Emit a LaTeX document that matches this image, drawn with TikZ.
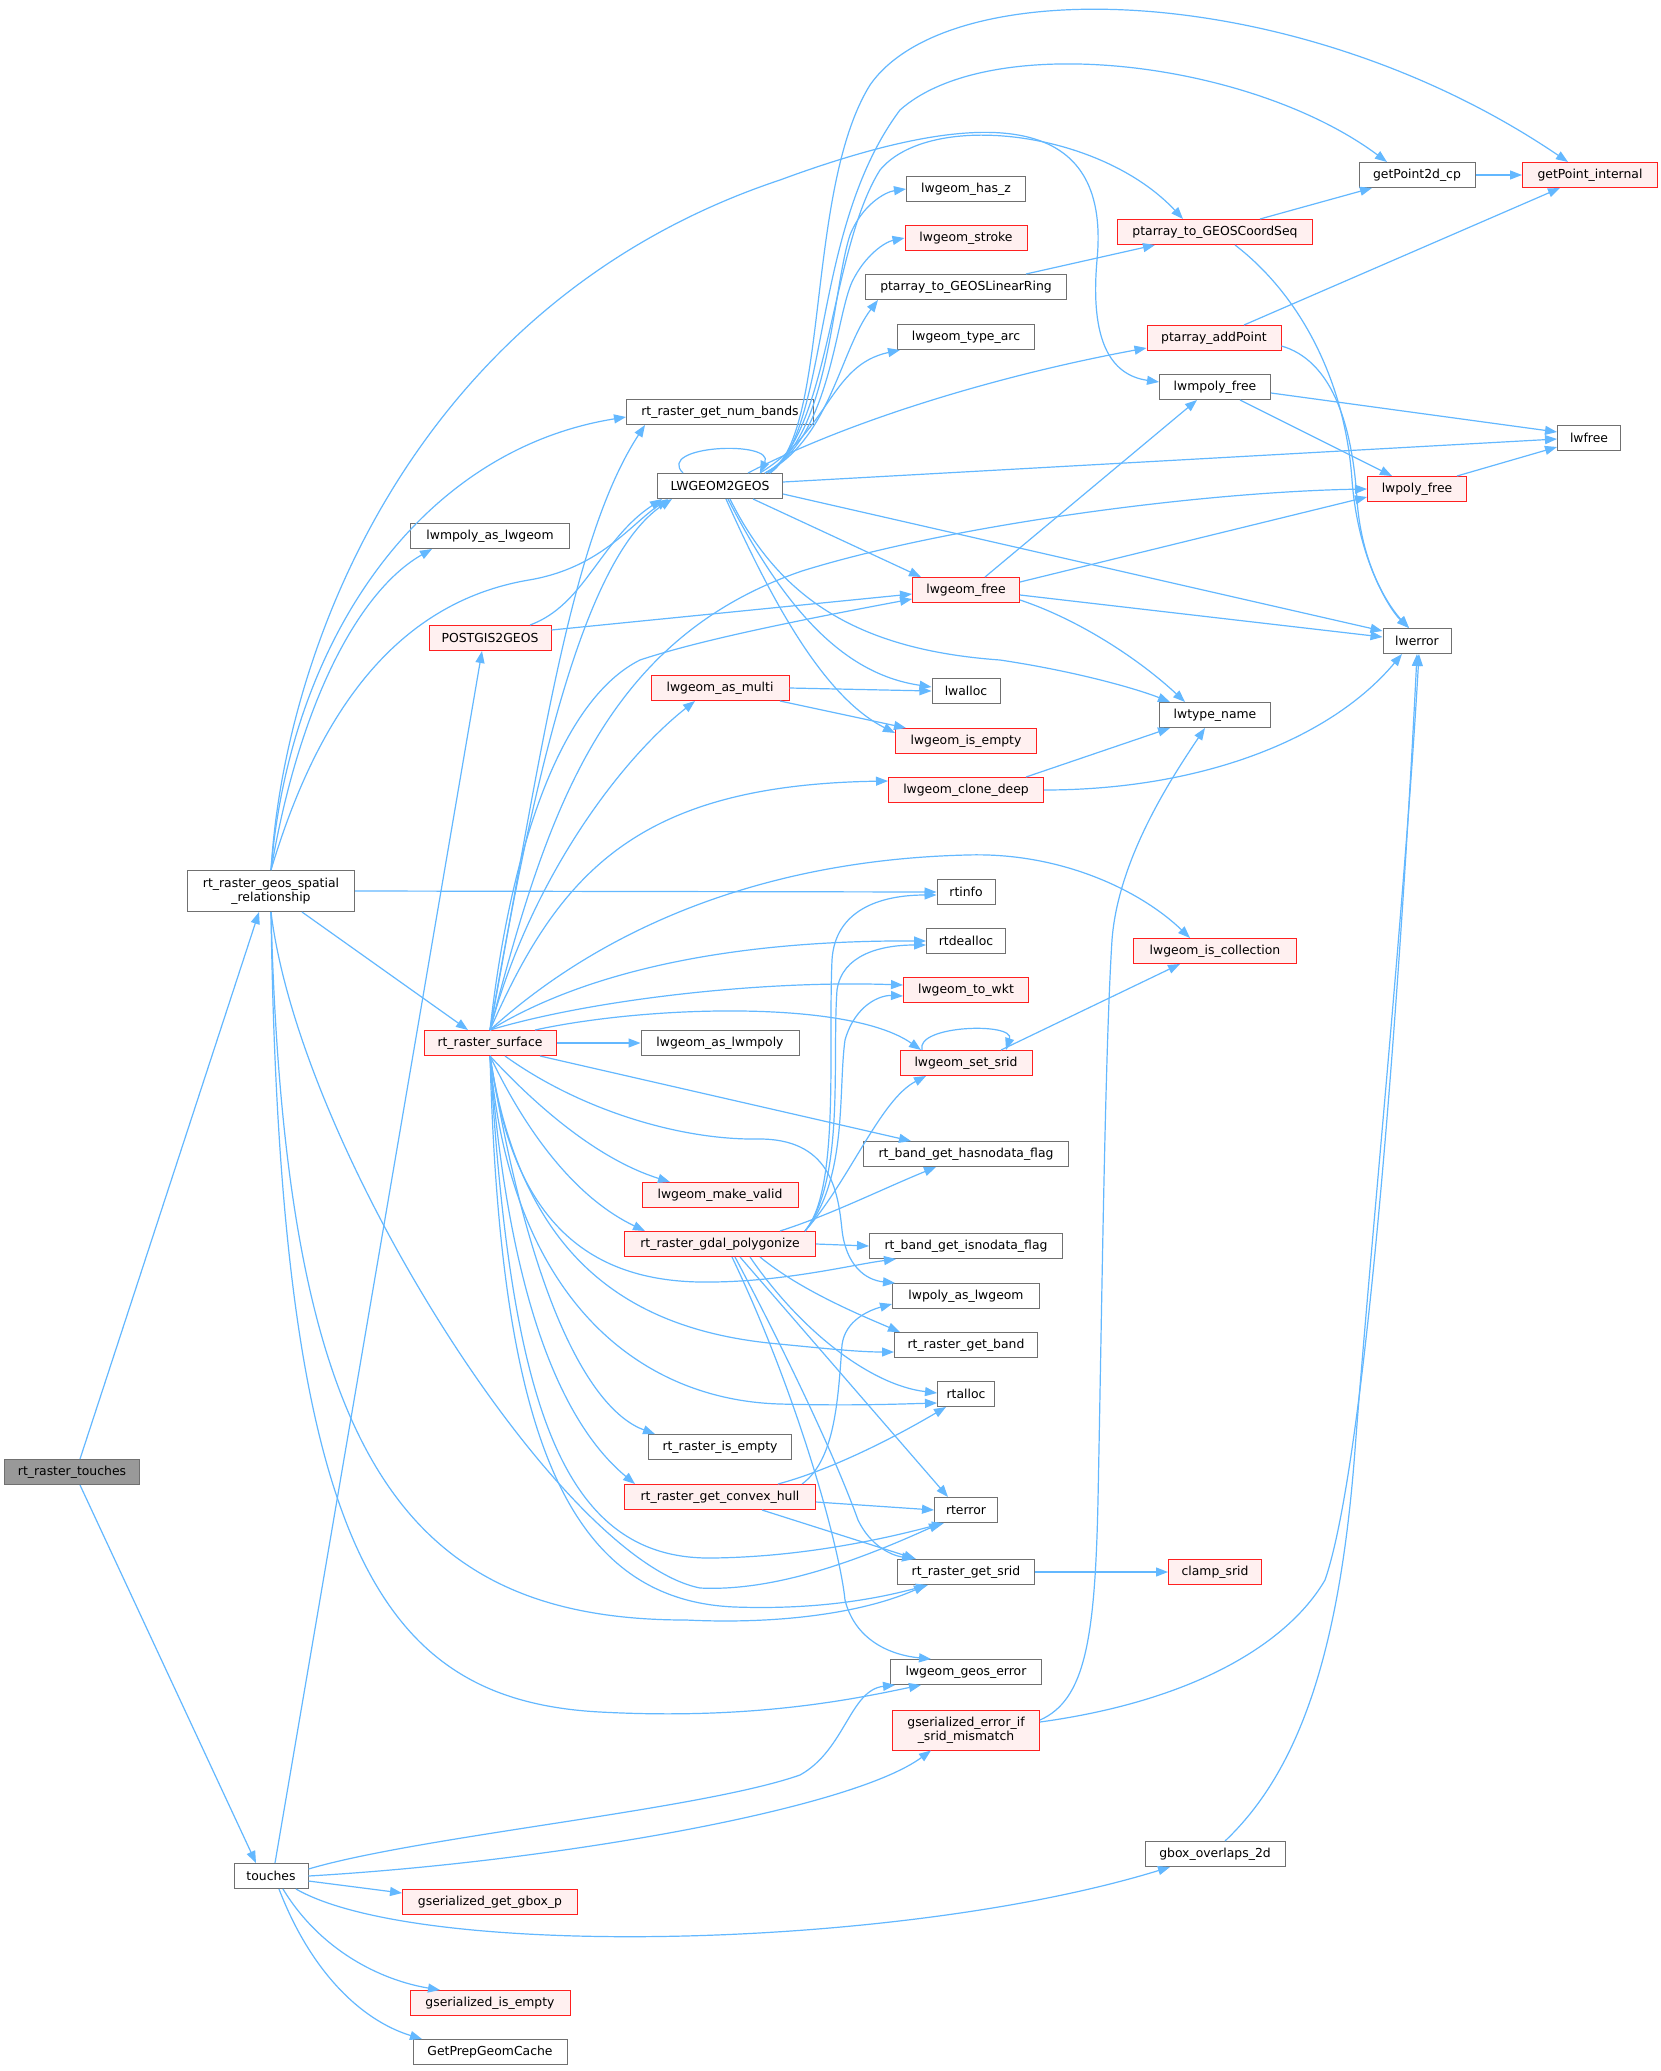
\documentclass[tikz,border=0pt]{standalone}
\usepackage{fontspec}
\setmainfont{DejaVu Sans}
\usetikzlibrary{arrows.meta}
\definecolor{edgeblue}{HTML}{63B8FF}
\definecolor{nodegrey}{HTML}{707070}
\definecolor{nodered}{HTML}{FF2020}
\definecolor{nodepink}{HTML}{FFF0F0}
\definecolor{rootgrey}{HTML}{999999}
\tikzset{
 box/.style={draw=nodegrey, fill=white, line width=1pt, minimum height=25pt, inner sep=0pt, font=\fontsize{12.4}{14.5}\selectfont, align=center},
 redbox/.style={box, draw=nodered, fill=nodepink},
 rootbox/.style={box, fill=rootgrey},
 e/.style={draw=edgeblue, line width=1.2pt, -{Triangle[length=12pt,width=9pt]}},
}
\begin{document}
\begin{tikzpicture}[x=1pt,y=-1pt]
\useasboundingbox[fill=white] (0,0) rectangle (1661,2071);
% nodes
\node[rootbox, minimum width=135pt] (RT) at (72,1472) {rt\_raster\_touches};
\node[box, minimum width=167pt, minimum height=41pt] (GS) at (271,891) {rt\_raster\_geos\_spatial\\\_relationship};
\node[box, minimum width=74pt] (TO) at (271,1876) {touches};
\node[box, minimum width=159pt] (LMAL) at (490,536) {lwmpoly\_as\_lwgeom};
\node[redbox, minimum width=122pt] (PG2G) at (490,638) {POSTGIS2GEOS};
\node[redbox, minimum width=132pt] (RS) at (490,1043) {rt\_raster\_surface};
\node[redbox, minimum width=175pt] (GGB) at (490,1902) {gserialized\_get\_gbox\_p};
\node[redbox, minimum width=160pt] (GIE) at (490,2003) {gserialized\_is\_empty};
\node[box, minimum width=154pt] (GPC) at (490,2052) {GetPrepGeomCache};
\node[box, minimum width=187pt] (NB) at (720,412) {rt\_raster\_get\_num\_bands};
\node[box, minimum width=125pt] (LW2G) at (720,486) {LWGEOM2GEOS};
\node[redbox, minimum width=138pt] (LAM) at (720,688) {lwgeom\_as\_multi};
\node[box, minimum width=158pt] (LALM) at (720,1043) {lwgeom\_as\_lwmpoly};
\node[redbox, minimum width=156pt] (LMV) at (720,1195) {lwgeom\_make\_valid};
\node[redbox, minimum width=191pt] (GP) at (720,1244) {rt\_raster\_gdal\_polygonize};
\node[box, minimum width=143pt] (RIE) at (720,1447) {rt\_raster\_is\_empty};
\node[redbox, minimum width=191pt] (CH) at (720,1497) {rt\_raster\_get\_convex\_hull};
\node[box, minimum width=119pt] (HZ) at (966,189) {lwgeom\_has\_z};
\node[redbox, minimum width=122pt] (ST) at (966,238) {lwgeom\_stroke};
\node[box, minimum width=201pt] (LR) at (966,287) {ptarray\_to\_GEOSLinearRing};
\node[box, minimum width=137pt] (TA) at (966,337) {lwgeom\_type\_arc};
\node[redbox, minimum width=107pt] (LF) at (966,590) {lwgeom\_free};
\node[box, minimum width=68pt] (LA) at (966,691) {lwalloc};
\node[redbox, minimum width=141pt] (LIE) at (966,741) {lwgeom\_is\_empty};
\node[redbox, minimum width=155pt] (CD) at (966,790) {lwgeom\_clone\_deep};
\node[box, minimum width=58pt] (RI) at (966,892) {rtinfo};
\node[box, minimum width=79pt] (RD) at (966,941) {rtdealloc};
\node[redbox, minimum width=125pt] (WKT) at (966,990) {lwgeom\_to\_wkt};
\node[redbox, minimum width=132pt] (SS) at (966,1063) {lwgeom\_set\_srid};
\node[box, minimum width=205pt] (HN) at (966,1154) {rt\_band\_get\_hasnodata\_flag};
\node[box, minimum width=193pt] (IN) at (966,1246) {rt\_band\_get\_isnodata\_flag};
\node[box, minimum width=147pt] (PAL) at (966,1296) {lwpoly\_as\_lwgeom};
\node[box, minimum width=143pt] (GB) at (966,1345) {rt\_raster\_get\_band};
\node[box, minimum width=57pt] (RA) at (966,1394) {rtalloc};
\node[box, minimum width=63pt] (RE) at (966,1510) {rterror};
\node[box, minimum width=137pt] (GS2) at (966,1572) {rt\_raster\_get\_srid};
\node[box, minimum width=151pt] (GE) at (966,1672) {lwgeom\_geos\_error};
\node[redbox, minimum width=147pt, minimum height=40pt] (GEM) at (966,1730) {gserialized\_error\_if\\\_srid\_mismatch};
\node[redbox, minimum width=195pt] (CS) at (1215,232) {ptarray\_to\_GEOSCoordSeq};
\node[redbox, minimum width=134pt] (AP) at (1214,338) {ptarray\_addPoint};
\node[box, minimum width=111pt] (MF) at (1215,387) {lwmpoly\_free};
\node[box, minimum width=111pt] (TN) at (1215,715) {lwtype\_name};
\node[redbox, minimum width=163pt] (IC) at (1215,951) {lwgeom\_is\_collection};
\node[redbox, minimum width=93pt] (CL) at (1215,1572) {clamp\_srid};
\node[box, minimum width=140pt] (GO) at (1215,1854) {gbox\_overlaps\_2d};
\node[box, minimum width=116pt] (P2) at (1417,175) {getPoint2d\_cp};
\node[redbox, minimum width=99pt] (PF) at (1417,489) {lwpoly\_free};
\node[box, minimum width=68pt] (ER) at (1417,641) {lwerror};
\node[redbox, minimum width=135pt] (PI) at (1590,175) {getPoint\_internal};
\node[box, minimum width=63pt] (FR) at (1589,438) {lwfree};
% rt_raster_touches
\draw[e] ([xshift=8pt]RT.north) -- ([xshift=-12pt]GS.south);
\draw[e] ([xshift=8pt]RT.south) -- ([xshift=-15pt]TO.north);
% geos spatial relationship
\draw[e] (GS.north) .. controls (285,640) and (420,300) .. (780,180) .. controls (1010,95) and (1110,125) .. (1097,260) .. controls (1090,340) and (1110,375) .. ([yshift=5pt]MF.west);
\draw[e] (GS.north) .. controls (290,640) and (420,450) .. ([yshift=-5pt]NB.west);
\draw[e] (GS.north) .. controls (300,700) and (360,590) .. ([xshift=-58pt]LMAL.south);
\draw[e] (GS.north) .. controls (310,740) and (380,605) .. (529,580) .. controls (600,568) and (630,525) .. ([xshift=-52pt]LW2G.south);
\draw[e] (GS.east) -- (RI.west);
\draw[e] ([xshift=31pt]GS.south) -- ([xshift=-22pt]RS.north);
\draw[e] (GS.south) .. controls (300,1150) and (560,1560) .. (700,1588) .. controls (780,1592) and (870,1555) .. ([xshift=-25pt]RE.south);
\draw[e] (GS.south) .. controls (285,1450) and (400,1620) .. (686,1620) .. controls (790,1625) and (870,1610) .. ([xshift=-40pt]GS2.south);
\draw[e] (GS.south) .. controls (280,1550) and (380,1700) .. (600,1712) .. controls (750,1720) and (850,1700) .. ([xshift=-45pt]GE.south);
% touches
\draw[e] ([xshift=4pt]TO.north) -- ([xshift=-8pt]PG2G.south);
\draw[e] ([yshift=7pt]TO.east) .. controls (420,1836) and (700,1810) .. (800,1775) .. controls (845,1750) and (850,1690) .. ([xshift=5pt]GE.south west);
\draw[e] (TO.east) .. controls (550,1862) and (850,1810) .. ([xshift=-35pt]GEM.south);
\draw[e] ([yshift=-5pt]TO.east) -- ([yshift=9pt]GGB.west);
\draw[e] ([xshift=25pt]TO.south) .. controls (420,1960) and (900,1950) .. ([xshift=-45pt]GO.south);
\draw[e] ([xshift=12pt]TO.south) .. controls (320,1950) and (380,1980) .. ([xshift=-50pt]GIE.north);
\draw[e] ([xshift=8pt]TO.south) .. controls (310,1970) and (360,2020) .. ([xshift=-68pt]GPC.north);
% POSTGIS2GEOS
\draw[e] ([xshift=40pt]PG2G.north) .. controls (585,605) and (600,540) .. ([xshift=-58pt]LW2G.south);
\draw[e] ([yshift=8pt]PG2G.east) -- ([yshift=-4pt]LF.west);
% rt_raster_surface
\draw[e] (RS.north) .. controls (540,760) and (570,540) .. ([xshift=-75pt]NB.south);
\draw[e] (RS.north) .. controls (530,800) and (580,560) .. ([xshift=-48pt]LW2G.south);
\draw[e] (RS.north) .. controls (545,820) and (600,640) .. (802,571) .. controls (950,525) and (1200,492) .. (PF.west);
\draw[e] (RS.north) .. controls (510,850) and (560,700) .. (640,660) .. controls (700,640) and (800,620) .. ([yshift=-9pt]LF.west);
\draw[e] (RS.north) .. controls (530,880) and (620,760) .. ([xshift=-25pt]LAM.south);
\draw[e] (RS.north) .. controls (560,870) and (640,785) .. ([yshift=9pt]CD.west);
\draw[e] (RS.north) .. controls (600,930) and (760,860) .. (967,855) .. controls (1060,852) and (1140,890) .. ([xshift=-25pt]IC.north);
\draw[e] (RS.north) .. controls (580,975) and (720,940) .. (RD.west);
\draw[e] (RS.north) .. controls (590,1000) and (760,980) .. ([yshift=5pt]WKT.west);
\draw[e] ([xshift=45pt]RS.north) .. controls (650,1005) and (850,1000) .. ([xshift=-45pt]SS.north);
\draw[e] (RS.east) -- (LALM.west);
\draw[e] ([xshift=50pt]RS.south) -- ([xshift=-55pt]HN.north);
\draw[e] ([xshift=15pt]RS.south) .. controls (580,1110) and (680,1140) .. (757,1139) .. controls (830,1138) and (838,1190) .. (842,1230) .. controls (846,1265) and (865,1280) .. ([xshift=3pt]PAL.north west);
\draw[e] (RS.south) .. controls (540,1110) and (600,1160) .. ([xshift=-50pt]LMV.north);
\draw[e] (RS.south) .. controls (530,1140) and (580,1200) .. ([xshift=-75pt]GP.north);
\draw[e] (RS.south) .. controls (510,1200) and (570,1280) .. (700,1282) .. controls (780,1283) and (850,1265) .. ([xshift=-70pt]IN.south);
\draw[e] (RS.south) .. controls (520,1250) and (620,1330) .. (779,1344) .. controls (830,1349) and (860,1352) .. ([yshift=-7pt]GB.west);
\draw[e] (RS.south) .. controls (510,1300) and (640,1400) .. (780,1404) .. controls (850,1406) and (900,1404) .. ([yshift=-9pt]RA.west);
\draw[e] (RS.south) .. controls (530,1300) and (590,1410) .. ([xshift=-65pt]RIE.north);
\draw[e] (RS.south) .. controls (510,1320) and (570,1430) .. ([xshift=-85pt]CH.north);
\draw[e] (RS.south) .. controls (510,1400) and (560,1560) .. (712,1558) .. controls (800,1557) and (880,1540) .. ([xshift=-22pt]RE.south);
\draw[e] (RS.south) .. controls (500,1420) and (560,1600) .. (735,1607) .. controls (820,1610) and (880,1598) .. ([xshift=-38pt]GS2.south);
% polygonize
\draw[e] ([xshift=85pt]GP.north) .. controls (840,1190) and (828,1050) .. (832,960) .. controls (835,910) and (880,895) .. ([yshift=-3pt]RI.west);
\draw[e] ([xshift=85pt]GP.north) .. controls (845,1180) and (832,1060) .. (837,990) .. controls (842,955) and (880,945) .. ([yshift=-4pt]RD.west);
\draw[e] ([xshift=85pt]GP.north) .. controls (848,1180) and (838,1090) .. (845,1040) .. controls (855,1005) and (880,995) .. ([yshift=-6pt]WKT.west);
\draw[e] ([xshift=85pt]GP.north) .. controls (850,1180) and (880,1100) .. ([xshift=-40pt]SS.south);
\draw[e] ([xshift=60pt]GP.north) .. controls (830,1215) and (880,1190) .. ([xshift=-30pt]HN.south);
\draw[e] (GP.east) -- (IN.west);
\draw[e] ([xshift=40pt]GP.south) .. controls (800,1290) and (860,1315) .. ([xshift=-66pt]GB.north);
\draw[e] ([xshift=30pt]GP.south) .. controls (800,1330) and (870,1385) .. ([yshift=1pt]RA.west);
\draw[e] ([xshift=20pt]GP.south) -- ([xshift=-18pt]RE.north);
\draw[e] ([xshift=15pt]GP.south) .. controls (800,1380) and (840,1470) .. (858,1520) .. controls (870,1545) and (890,1555) .. ([xshift=-52pt]GS2.north);
\draw[e] ([xshift=12pt]GP.south) .. controls (800,1400) and (840,1550) .. (845,1600) .. controls (855,1640) and (890,1655) .. ([xshift=-35pt]GE.north);
% convex hull
\draw[e] ([xshift=58pt]CH.north) .. controls (830,1470) and (890,1440) .. ([xshift=-20pt]RA.south);
\draw[e] ([xshift=82pt]CH.north) .. controls (835,1460) and (838,1400) .. (842,1345) .. controls (845,1320) and (870,1310) .. ([yshift=-8pt]PAL.west);
\draw[e] ([yshift=-5pt]CH.east) -- (RE.west);
\draw[e] ([xshift=42pt]CH.south) -- ([xshift=-50pt]GS2.north);
% LWGEOM2GEOS
\draw[e] ([xshift=-37pt]LW2G.north) .. controls (655,445) and (775,440) .. ([xshift=40pt]LW2G.north);
\draw[e] ([xshift=45pt]LW2G.north) .. controls (830,440) and (832,290) .. (850,235) .. controls (862,205) and (885,192) .. (HZ.west);
\draw[e] ([xshift=45pt]LW2G.north) .. controls (830,440) and (835,320) .. (852,282) .. controls (865,255) and (885,242) .. (ST.west);
\draw[e] ([xshift=45pt]LW2G.north) .. controls (830,440) and (840,350) .. ([xshift=-88pt]LR.south);
\draw[e] ([xshift=40pt]LW2G.north) .. controls (830,430) and (830,365) .. ([xshift=3pt]TA.south west);
\draw[e] ([xshift=28pt]LW2G.north) .. controls (850,420) and (1000,375) .. ([yshift=-10pt]AP.west);
\draw[e] ([xshift=50pt]LW2G.north) .. controls (830,430) and (805,190) .. (870,85) .. controls (950,-30) and (1300,-20) .. ([xshift=-22pt]PI.north);
\draw[e] ([xshift=50pt]LW2G.north) .. controls (830,430) and (810,230) .. (900,110) .. controls (990,30) and (1250,60) .. ([xshift=-30pt]P2.north);
\draw[e] ([xshift=48pt]LW2G.north) .. controls (830,430) and (830,250) .. (880,170) .. controls (930,110) and (1100,130) .. ([xshift=-32pt]CS.north);
\draw[e] ([yshift=4pt]LW2G.east) -- ([yshift=-1pt]FR.west);
\draw[e] ([yshift=-8pt]LW2G.east) -- ([yshift=10pt]ER.west);
\draw[e] ([xshift=33pt]LW2G.south) -- ([xshift=-45pt]LF.north);
\draw[e] ([xshift=10pt]LW2G.south) .. controls (780,600) and (860,650) .. (1000,660) .. controls (1080,672) and (1140,690) .. ([xshift=-45pt]TN.north);
\draw[e] ([xshift=8pt]LW2G.south) .. controls (790,620) and (850,675) .. ([yshift=4pt]LA.west);
\draw[e] ([xshift=6pt]LW2G.south) .. controls (780,620) and (830,700) .. ([yshift=8pt]LIE.west);
% misc
\draw[e] (LAM.east) -- (LA.west);
\draw[e] ([xshift=60pt]LAM.south) -- ([xshift=-60pt]LIE.north);
\draw[e] ([xshift=60pt]CD.north) -- ([xshift=-45pt]TN.south);
\draw[e] (CD.east) .. controls (1200,790) and (1330,740) .. ([xshift=-15pt]ER.south);
\draw[e] ([xshift=-44pt]SS.north) .. controls (915,1025) and (1015,1022) .. ([xshift=40pt]SS.north);
\draw[e] ([xshift=35pt]SS.north) -- ([xshift=-35pt]IC.south);
\draw[e] ([xshift=19pt]LF.north) -- ([xshift=-18pt]MF.south);
\draw[e] ([yshift=8pt]LF.east) -- ([yshift=-8pt]PF.west);
\draw[e] ([yshift=-5pt]LF.east) -- ([yshift=4pt]ER.west);
\draw[e] ([yshift=-10pt]LF.east) .. controls (1080,620) and (1140,660) .. ([xshift=-30pt]TN.north);
\draw[e] ([yshift=-6pt]MF.east) -- ([yshift=6pt]FR.west);
\draw[e] ([xshift=25pt]MF.south) -- ([xshift=-25pt]PF.north);
\draw[e] ([xshift=40pt]PF.north) -- ([yshift=-9pt]FR.west);
\draw[e] ([xshift=45pt]CS.north) -- ([xshift=-45pt]P2.south);
\draw[e] ([xshift=20pt]CS.south) .. controls (1300,295) and (1345,380) .. (1352,480) .. controls (1358,560) and (1390,610) .. ([xshift=-8pt]ER.north);
\draw[e] ([xshift=30pt]AP.north) -- ([xshift=-30pt]PI.south);
\draw[e] ([yshift=-8pt]AP.east) .. controls (1330,360) and (1352,420) .. (1357,500) .. controls (1362,570) and (1392,610) .. ([xshift=-8pt]ER.north);
\draw[e] (P2.east) -- (PI.west);
\draw[e] ([xshift=60pt]LR.north) -- ([xshift=-60pt]CS.south);
\draw[e] (GS2.east) -- (CL.west);
\draw[e] ([yshift=10pt]GEM.east) .. controls (1085,1700) and (1095,1640) .. (1098,1500) .. controls (1102,1300) and (1105,1050) .. (1112,940) .. controls (1118,860) and (1170,780) .. ([xshift=-10pt]TN.south);
\draw[e] ([yshift=8pt]GEM.east) .. controls (1200,1700) and (1290,1640) .. (1325,1580) .. controls (1370,1450) and (1405,900) .. (ER.south);
\draw[e] ([xshift=10pt]GO.north) .. controls (1300,1770) and (1340,1650) .. (1355,1450) .. controls (1370,1250) and (1405,900) .. ([xshift=2pt]ER.south);
\end{tikzpicture}
\end{document}
